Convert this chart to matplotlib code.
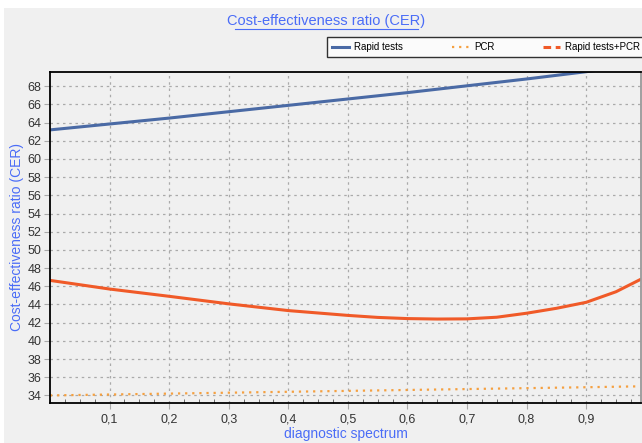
import matplotlib.pyplot as plt
from matplotlib.lines import Line2D
from matplotlib.patches import Rectangle
from matplotlib.ticker import FuncFormatter, MultipleLocator

plt.rcParams['font.family'] = ['Liberation Sans', 'DejaVu Sans']

# values
x_rapid = [0.0, 0.1, 0.2, 0.3, 0.4, 0.5, 0.6, 0.7, 0.8, 0.9, 0.99]
rapid = [63.2, 63.85, 64.5, 65.2, 65.9, 66.6, 67.3, 68.05, 68.8, 69.6, 70.4]
x_pcr = [0.0, 0.1, 0.2, 0.3, 0.4, 0.5, 0.6, 0.7, 0.8, 0.9, 0.99]
pcr = [34.0, 34.1, 34.2, 34.3, 34.4, 34.5, 34.6, 34.7, 34.8, 34.9, 35.0]
x_combo = [0.0, 0.1, 0.2, 0.3, 0.4, 0.5, 0.55, 0.6, 0.65, 0.7, 0.75, 0.8, 0.85, 0.9, 0.95, 0.99]
combo = [46.65, 45.7, 44.9, 44.07, 43.33, 42.8, 42.58, 42.45, 42.4, 42.42, 42.6, 43.04,
         43.58, 44.24, 45.4, 46.72]
yticks = list(range(34, 69, 2))
xticks = [0.1, 0.2, 0.3, 0.4, 0.5, 0.6, 0.7, 0.8, 0.9]

blue = '#4a6aa5'
orange = '#f5a040'
red = '#f05a28'
txtblue = '#4a6cf7'
bg = '#f0f0f0'

fig = plt.figure(figsize=(6.42, 4.43), dpi=100, facecolor=bg)
# white margins at top/left as in the screenshot
fig.patches.append(Rectangle((0, 1 - 8 / 443), 1, 8 / 443, transform=fig.transFigure,
                             facecolor='white', edgecolor='none', zorder=0))
fig.patches.append(Rectangle((0, 0), 4 / 642, 1, transform=fig.transFigure,
                             facecolor='white', edgecolor='none', zorder=0))

ax = fig.add_axes([50 / 642, 1 - 402.7 / 443, 591 / 642, (402.7 - 71.7) / 443])
ax.set_facecolor(bg)

ax.plot(x_rapid, rapid, color=blue, lw=2.2, solid_capstyle='butt')
ax.plot(x_pcr, pcr, color=orange, lw=1.6, linestyle=(0, (1, 2.2)))
ax.plot(x_combo, combo, color=red, lw=2.2)

ax.set_xlim(0, 0.992)
ax.set_ylim(33.2, 69.6)
ax.set_xticks(xticks)
ax.set_yticks(yticks)
ax.xaxis.set_minor_locator(MultipleLocator(0.025))
comma = FuncFormatter(lambda v, p: ('%g' % v).replace('.', ','))
ax.xaxis.set_major_formatter(comma)

ax.grid(True, which='major', color='#aaaaaa', linestyle=(0, (2, 3)), lw=0.9)
ax.tick_params(axis='both', which='major', length=4, color='#aaaaaa',
               labelsize=9, labelcolor='#333333', pad=2)
ax.tick_params(axis='x', which='minor', direction='in', length=3, color='#555555')
ax.tick_params(axis='x', which='major', pad=4)

for s in ['left', 'bottom', 'top']:
    ax.spines[s].set_color('black')
    ax.spines[s].set_linewidth(1.3)
ax.spines['right'].set_color('#999999')
ax.spines['right'].set_linewidth(1.3)

ax.set_xlabel('diagnostic spectrum', color=txtblue, fontsize=10, labelpad=1)
ax.set_ylabel('Cost-effectiveness ratio (CER)', color=txtblue, fontsize=10, labelpad=3)

# title with underline
fig.text(326 / 642, 1 - 21 / 443, 'Cost-effectiveness ratio (CER)', color=txtblue,
         fontsize=10.5, ha='center', va='center')
fig.add_artist(Line2D([235 / 642, 418 / 642], [1 - 29 / 443, 1 - 29 / 443],
                      color=txtblue, lw=0.8, transform=fig.transFigure))

handles = [Line2D([], [], color=blue, lw=2.2),
           Line2D([], [], color=orange, lw=1.6, linestyle=(0, (1, 2.2))),
           Line2D([], [], color=red, lw=2.2, linestyle=(0, (2.5, 1.5)))]
leg = fig.legend(handles, ['Rapid tests', 'PCR', 'Rapid tests+PCR'], ncol=3,
                 loc='center', bbox_to_anchor=(486 / 642, 1 - 47 / 443),
                 fontsize=7, frameon=True, fancybox=False, edgecolor='black',
                 handlelength=1.8, columnspacing=5.0, handletextpad=0.5,
                 borderpad=0.5, borderaxespad=0)
leg.get_frame().set_linewidth(1)
leg.get_frame().set_facecolor('white')

fig.savefig('out.png', dpi=100, facecolor=bg)
